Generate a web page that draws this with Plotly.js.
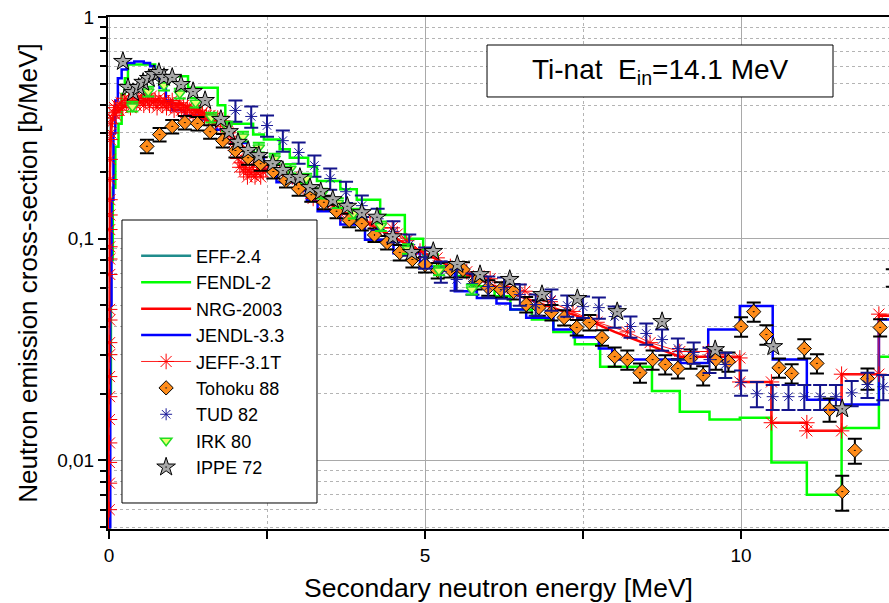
<!DOCTYPE html>
<html>
<head>
<meta charset="utf-8">
<script src="https://cdn.plot.ly/plotly-3.0.1.min.js"></script>
<style>html,body{margin:0;padding:0;background:#fff;}#chart{width:889px;height:603px;}</style>
</head>
<body>
<div id="chart"></div>
<script>
// ---------------- data ----------------
// EFF-2.4 is not distinguishable in the picture: legend entry only
var effX = [null];
var effY = [null];

// FENDL-2 histogram (bin lower edge, value)
var fendlX = [0, 0.01, 0.03, 0.06, 0.1, 0.15, 0.2, 0.25, 0.3, 0.73, 1.25, 1.72, 1.84, 2.28, 2.45, 2.7, 2.86, 3.15, 3.29, 3.66, 3.92, 4.29, 4.68, 4.97, 5.2, 5.5, 5.82, 6.1, 6.35, 6.69, 7.03, 7.37, 7.77, 8.59, 9.03, 9.5, 9.98, 10.48, 11.04, 11.59, 12.18, 12.5];
var fendlY = [0.004, 0.02, 0.08, 0.17, 0.26, 0.33, 0.45, 0.53, 0.61, 0.54, 0.48, 0.40, 0.33, 0.295, 0.28, 0.253, 0.232, 0.212, 0.182, 0.167, 0.15, 0.128, 0.1, 0.085, 0.075, 0.068, 0.061, 0.055, 0.048, 0.0432, 0.038, 0.0334, 0.0265, 0.0206, 0.0166, 0.0153, 0.0156, 0.0098, 0.0070, 0.0140, 0.0294, 0.0294];

// NRG-2003
var nrgX = [0, 0.004, 0.008, 0.015, 0.03, 0.06, 0.1, 0.2, 0.35, 0.55, 0.8, 1.0, 1.2, 1.4, 1.6, 1.8, 2.0, 2.3, 2.6, 3.0, 3.4, 3.8, 4.2, 4.6, 5.0, 5.5, 6.0, 6.5, 7.0, 7.5, 8.0, 8.45, 9.03, 9.98, 9.98, 10.48, 10.48, 11.04, 11.04, 11.59, 11.59, 12.18, 12.18, 12.5];
var nrgY = [0.0045, 0.02, 0.08, 0.2, 0.3, 0.35, 0.37, 0.39, 0.41, 0.42, 0.42, 0.41, 0.40, 0.38, 0.36, 0.33, 0.28, 0.235, 0.205, 0.175, 0.148, 0.128, 0.113, 0.098, 0.086, 0.072, 0.063, 0.055, 0.049, 0.044, 0.038, 0.034, 0.0294, 0.0294, 0.0226, 0.0226, 0.0148, 0.0148, 0.0136, 0.0136, 0.0245, 0.0245, 0.045, 0.045];

// JENDL-3.3 histogram (bin lower edge, value)
var jendlX = [0, 0.02, 0.04, 0.07, 0.1, 0.14, 0.2, 0.28, 0.4, 0.55, 0.65, 0.72, 0.8, 0.9, 1.0, 1.2, 1.45, 1.7, 1.95, 2.2, 2.45, 2.65, 3.0, 3.13, 3.3, 3.66, 4.05, 4.5, 4.92, 5.47, 5.82, 6.13, 6.35, 6.6, 7.03, 7.35, 7.75, 7.96, 9.04, 9.48, 9.98, 10.5, 11.04, 11.59, 12.18, 12.5];
var jendlY = [0.005, 0.05, 0.15, 0.3, 0.42, 0.53, 0.58, 0.62, 0.63, 0.62, 0.6, 0.54, 0.48, 0.42, 0.38, 0.36, 0.345, 0.31, 0.27, 0.235, 0.205, 0.18, 0.165, 0.148, 0.133, 0.116, 0.099, 0.086, 0.075, 0.058, 0.054, 0.051, 0.048, 0.044, 0.039, 0.036, 0.032, 0.0285, 0.0275, 0.039, 0.0497, 0.0285, 0.0188, 0.0179, 0.0432, 0.0432];

// JEFF-3.1T
var jeffX = [0.004, 0.006, 0.005, 0.008, 0.007, 0.009, 0.008, 0.010, 0.009, 0.011, 0.010, 0.012, 0.011, 0.013, 0.012, 0.014, 0.015, 0.016, 0.018, 0.020, 0.025,
  0.03, 0.05, 0.07, 0.09, 0.11, 0.13, 0.16, 0.19, 0.22, 0.25, 0.28, 0.31, 0.34, 0.37, 0.40, 0.43, 0.46, 0.49, 0.52, 0.55,
  0.58, 0.61, 0.64, 0.67, 0.70, 0.73, 0.76, 0.79, 0.82, 0.85, 0.88, 0.91, 0.94, 0.97, 1.00, 1.03, 1.06, 1.09, 1.12, 1.15,
  1.18, 1.21, 1.24, 1.27, 1.30, 1.33, 1.36, 1.39, 1.42, 1.45, 1.48, 1.51, 1.54, 1.57, 1.60, 1.63, 1.66, 1.69, 1.72, 1.76, 1.80,
  1.84, 1.88, 1.92, 1.96, 2.00, 2.04, 2.07, 2.10, 2.13, 2.16, 2.19, 2.22, 2.25, 2.28, 2.31, 2.34, 2.37, 2.40, 2.44, 2.48,
  2.70, 2.90, 3.07, 3.23, 3.40, 3.66, 3.85, 4.02, 4.13, 4.30, 4.48, 4.56, 4.71, 4.92, 5.19, 5.40, 5.66, 5.85, 6.03, 6.30,
  6.58, 6.98, 7.34, 7.72, 8.20, 8.56, 9.03, 9.48, 9.98, 9.98, 10.48, 10.48, 11.04, 11.04, 11.59, 11.59, 12.18, 12.18, 12.40];
var jeffY = [0.0060, 0.0079, 0.0098, 0.012, 0.0153, 0.0194, 0.0239, 0.030, 0.034, 0.043, 0.048, 0.069, 0.081, 0.092, 0.11, 0.128, 0.15, 0.185, 0.228, 0.28, 0.33,
  0.30, 0.35, 0.37, 0.39, 0.36, 0.40, 0.38, 0.41, 0.39, 0.43, 0.40, 0.42, 0.39, 0.44, 0.41, 0.40, 0.43, 0.41, 0.44, 0.40,
  0.42, 0.43, 0.40, 0.44, 0.41, 0.42, 0.39, 0.43, 0.41, 0.40, 0.42, 0.39, 0.41, 0.40, 0.42, 0.38, 0.40, 0.39, 0.41, 0.38,
  0.40, 0.37, 0.39, 0.38, 0.39, 0.36, 0.38, 0.37, 0.38, 0.36, 0.37, 0.35, 0.36, 0.35, 0.36, 0.34, 0.35, 0.34, 0.35, 0.33, 0.34,
  0.32, 0.30, 0.29, 0.27, 0.25, 0.23, 0.21, 0.22, 0.20, 0.21, 0.19, 0.205, 0.195, 0.215, 0.19, 0.20, 0.21, 0.19, 0.20, 0.205,
  0.205, 0.19, 0.172, 0.152, 0.145, 0.130, 0.125, 0.125, 0.118, 0.112, 0.112, 0.105, 0.098, 0.088, 0.082, 0.075, 0.071, 0.068, 0.066, 0.061,
  0.058, 0.052, 0.047, 0.042, 0.038, 0.034, 0.031, 0.031, 0.029, 0.0226, 0.0226, 0.0148, 0.0148, 0.0136, 0.0136, 0.0245, 0.0245, 0.0457, 0.0457];

// Tohoku 88
var tohokuX = [0.6, 0.8, 1.0, 1.2, 1.4, 1.6, 1.8, 2.0, 2.2, 2.4, 2.6, 2.8, 3.0, 3.2, 3.4, 3.6, 3.8, 4.0, 4.2, 4.4,
  4.6, 4.8, 5.0, 5.2, 5.4, 5.6, 5.8, 6.0, 6.2, 6.4, 6.6, 6.8, 7.0, 7.2, 7.4, 7.6, 7.8, 8.0, 8.2, 8.4,
  8.6, 8.8, 9.0, 9.2, 9.4, 9.6, 9.8, 10.0, 10.2, 10.4, 10.6, 10.8, 11.0, 11.2, 11.4, 11.6, 11.8, 12.0, 12.2, 12.4];
var tohokuY = [0.261, 0.295, 0.321, 0.334, 0.331, 0.304, 0.277, 0.250, 0.232, 0.218,
  0.201, 0.183, 0.168, 0.158, 0.146, 0.133, 0.121, 0.117, 0.104, 0.0961,
  0.0867, 0.0806, 0.0765, 0.0719, 0.0726, 0.0726, 0.0641, 0.0602, 0.0590, 0.0578,
  0.0505, 0.0489, 0.0465, 0.0441, 0.0398, 0.0419, 0.0358, 0.0294, 0.0285, 0.0249,
  0.0285, 0.0271, 0.0260, 0.0288, 0.0242, 0.0285, 0.0279, 0.0402, 0.0469, 0.0370,
  0.0262, 0.0247, 0.0320, 0.0274, 0.0170, 0.00724, 0.0111, 0.0234, 0.0398, 0.0668];
var tohokuErrPct = [7, 7, 7, 7, 7, 7, 7, 7, 7, 7, 7, 7, 7, 7, 7, 7, 7, 7, 7, 7,
  8, 8, 8, 8, 8, 8, 8, 8, 8, 8, 8, 8, 8, 8, 8, 8, 8, 10, 10, 10,
  10, 10, 10, 10, 10, 10, 10, 10, 10, 10, 10, 10, 10, 10, 12, 18, 13, 11, 9, 9];

// TUD 82
var tudX = [2.0, 2.25, 2.5, 2.75, 3.0, 3.25, 3.5, 3.75, 4.0, 4.25, 4.5, 4.75, 5.0, 5.25, 5.5, 5.75, 6.0, 6.25, 6.5, 6.75, 7.0,
  7.25, 7.5, 7.75, 8.0, 8.25, 8.5, 8.75, 9.0, 9.25, 9.5, 9.75, 10.0, 10.25, 10.5, 10.75, 11.0, 11.25, 11.5, 11.75, 12.0, 12.25];
var tudY = [0.379, 0.356, 0.324, 0.277, 0.245, 0.214, 0.187, 0.163, 0.141, 0.123, 0.108, 0.0941, 0.0823, 0.0711, 0.0655, 0.0628, 0.0609, 0.0602, 0.0560, 0.0505, 0.0532,
  0.0500, 0.0494, 0.0489, 0.0446, 0.0402, 0.0374, 0.0351, 0.0320, 0.0307, 0.0285, 0.0271, 0.0225, 0.0200, 0.0194, 0.0194, 0.0194, 0.0194, 0.0194, 0.0202, 0.0220, 0.0215];
var tudErrPct = [11, 11, 11, 11, 11, 11, 11, 11, 11, 11, 11, 11, 11, 11, 11, 11, 11, 11, 11, 11, 11,
  11, 11, 11, 11, 11, 11, 11, 11, 11, 13, 13, 13, 13, 13, 13, 13, 13, 13, 13, 13, 13];

// IRK 80
var irkX = [0.37, 0.62, 0.87, 1.12, 1.37, 1.62, 1.87, 2.12, 2.37, 2.62, 2.87, 3.12, 3.37, 3.62, 3.87, 4.3, 4.73, 5.22, 5.74];
var irkY = [0.395, 0.461, 0.491, 0.452, 0.411, 0.352, 0.321, 0.289, 0.258, 0.230, 0.207, 0.187, 0.160, 0.145, 0.130, 0.114, 0.090, 0.072, 0.059];
var irkErrPct = [5, 5, 5, 5, 5, 5, 5, 5, 5, 5, 5, 5, 5, 5, 5, 5, 5, 5, 5];

// IPPE 72
var ippeX = [0.22, 0.30, 0.38, 0.47, 0.54, 0.63, 0.71, 0.79, 0.87, 1.0, 1.14, 1.33, 1.52, 1.77, 1.90, 2.04, 2.2, 2.37, 2.59, 2.75,
  2.88, 3.02, 3.18, 3.35, 3.54, 3.77, 4.0, 4.24, 4.49, 4.79, 5.13, 5.51, 5.87, 6.34, 6.85, 7.41, 8.04, 8.75, 9.59, 10.51, 11.6];
var ippeY = [0.630, 0.481, 0.456, 0.481, 0.507, 0.528, 0.550, 0.562, 0.534, 0.534, 0.496, 0.461, 0.420, 0.345, 0.304, 0.272, 0.250, 0.237, 0.218, 0.203,
  0.189, 0.189, 0.170, 0.163, 0.150, 0.140, 0.131, 0.125, 0.102, 0.0867, 0.0876, 0.0765, 0.0689, 0.0655, 0.0560, 0.0537, 0.0469, 0.0423, 0.0316, 0.0326, 0.0171];

// tick labels
var yTickVals = [0.01, 0.1, 1];
var yTickText = ['0,01', '0,1', '1'];
var yMinorVals = [0.005, 0.006, 0.007, 0.008, 0.009, 0.02, 0.03, 0.04, 0.05, 0.06, 0.07, 0.08, 0.09, 0.2, 0.3, 0.4, 0.5, 0.6, 0.7, 0.8, 0.9];
var xTickVals = [0, 5, 10];
var xTickText = ['0', '5', '10'];
var xMinorVals = [2.5, 7.5];

// ---------------- chart ----------------
var FONT = 'Arial, "Liberation Sans", sans-serif';
function errs(y, pct) { return y.map(function (v, i) { return v * pct[i] / 100; }); }

var traces = [
  {name: 'EFF-2.4', x: effX, y: effY, mode: 'lines', line: {color: '#1f8c8c', width: 2.5}},
  {name: 'FENDL-2', x: fendlX, y: fendlY, mode: 'lines', line: {color: '#00ff00', width: 2.5, shape: 'hv'}},
  {name: 'NRG-2003', x: nrgX, y: nrgY, mode: 'lines', line: {color: '#ff0000', width: 2.5}},
  {name: 'JENDL-3.3', x: jendlX, y: jendlY, mode: 'lines', line: {color: '#0000ff', width: 2.5, shape: 'hv'}},
  {name: 'JEFF-3.1T', x: jeffX, y: jeffY, mode: 'lines+markers', line: {color: '#ff2020', width: 1},
    marker: {symbol: 'asterisk-open', size: 13, color: '#ff0000', line: {color: '#ff0000', width: 1}}},
  {name: 'Tohoku 88', x: tohokuX, y: tohokuY, mode: 'markers', cliponaxis: false,
    marker: {symbol: 'diamond-dot', size: 11, color: '#ff8c1a', line: {color: '#000000', width: 1}},
    error_y: {type: 'data', array: errs(tohokuY, tohokuErrPct), color: '#000000', thickness: 2, width: 7}},
  {name: 'TUD 82', x: tudX, y: tudY, mode: 'markers',
    marker: {symbol: 'asterisk-open', size: 10, color: '#1a1a99', line: {color: '#1a1a99', width: 1}},
    error_y: {type: 'data', array: errs(tudY, tudErrPct), color: '#14148c', thickness: 2, width: 7}},
  {name: 'IRK 80', x: irkX, y: irkY, mode: 'markers',
    marker: {symbol: 'triangle-down', size: 10, color: '#eaff70', line: {color: '#22dd22', width: 1.5}},
    error_y: {type: 'data', array: errs(irkY, irkErrPct), color: '#11ee11', thickness: 2, width: 6}},
  {name: 'IPPE 72', x: ippeX, y: ippeY, mode: 'markers',
    marker: {symbol: 'star-dot', size: 14, color: '#a8a8a8', line: {color: '#000000', width: 1}}}
];

var layout = {
  width: 889, height: 603,
  margin: {l: 108, r: 0, t: 17, b: 74},
  paper_bgcolor: '#ffffff', plot_bgcolor: '#ffffff',
  font: {family: FONT, color: '#000000', size: 19},
  showlegend: true,
  legend: {x: 0.036, y: 0.569, xanchor: 'left', yanchor: 'top', bgcolor: 'rgba(0,0,0,0)', borderwidth: 0,
    font: {family: FONT, size: 18, color: '#000000'}, itemwidth: 50, tracegroupgap: 0},
  xaxis: {
    range: [-0.016, 12.34], tickmode: 'array', tickvals: xTickVals, ticktext: xTickText,
    ticks: 'outside', ticklen: 8, tickwidth: 2, tickcolor: '#000000',
    showline: true, linewidth: 2, linecolor: '#000000', mirror: true,
    showgrid: true, gridcolor: '#a9a9a9', gridwidth: 1, zeroline: false,
    tickfont: {family: FONT, size: 19},
    minor: {tickmode: 'array', tickvals: xMinorVals, ticks: 'outside', ticklen: 8, tickwidth: 2, tickcolor: '#000000',
      showgrid: true, gridcolor: '#b4b4b4', griddash: 'dot', gridwidth: 1},
    title: {text: 'Secondary neutron energy [MeV]', font: {family: FONT, size: 26.5}, standoff: 14}
  },
  yaxis: {
    type: 'log', range: [-2.309, 0], tickmode: 'array', tickvals: yTickVals, ticktext: yTickText,
    ticks: 'outside', ticklen: 8, tickwidth: 2, tickcolor: '#000000',
    showline: true, linewidth: 2, linecolor: '#000000', mirror: false,
    showgrid: true, gridcolor: '#a9a9a9', gridwidth: 1, zeroline: false,
    tickfont: {family: FONT, size: 19},
    minor: {tickmode: 'array', tickvals: yMinorVals, ticks: 'outside', ticklen: 6, tickwidth: 2, tickcolor: '#000000',
      showgrid: true, gridcolor: '#b4b4b4', griddash: 'dot', gridwidth: 1},
    title: {text: 'Neutron emission cross-section [b/MeV]', font: {family: FONT, size: 26}, standoff: 12}
  },
  shapes: [
    {type: 'rect', xref: 'paper', yref: 'paper', x0: 0.0179, x1: 0.2676, y0: 0.0508, y1: 0.6035,
      fillcolor: '#ffffff', line: {color: '#000000', width: 1}, layer: 'above'},
    {type: 'rect', xref: 'paper', yref: 'paper', x0: 0.4853, x1: 0.9283, y0: 0.8438, y1: 0.9453,
      fillcolor: '#ffffff', line: {color: '#000000', width: 1}, layer: 'above'}
  ],
  annotations: [
    {xref: 'paper', yref: 'paper', x: 0.7068, y: 0.8945, xanchor: 'center', yanchor: 'middle', showarrow: false,
      text: 'Ti-nat\u00a0 E<sub>in</sub>=14.1 MeV', font: {family: FONT, size: 28, color: '#000000'}}
  ]
};

Plotly.newPlot('chart', traces, layout, {staticPlot: true, displayModeBar: false});
</script>
</body>
</html>
